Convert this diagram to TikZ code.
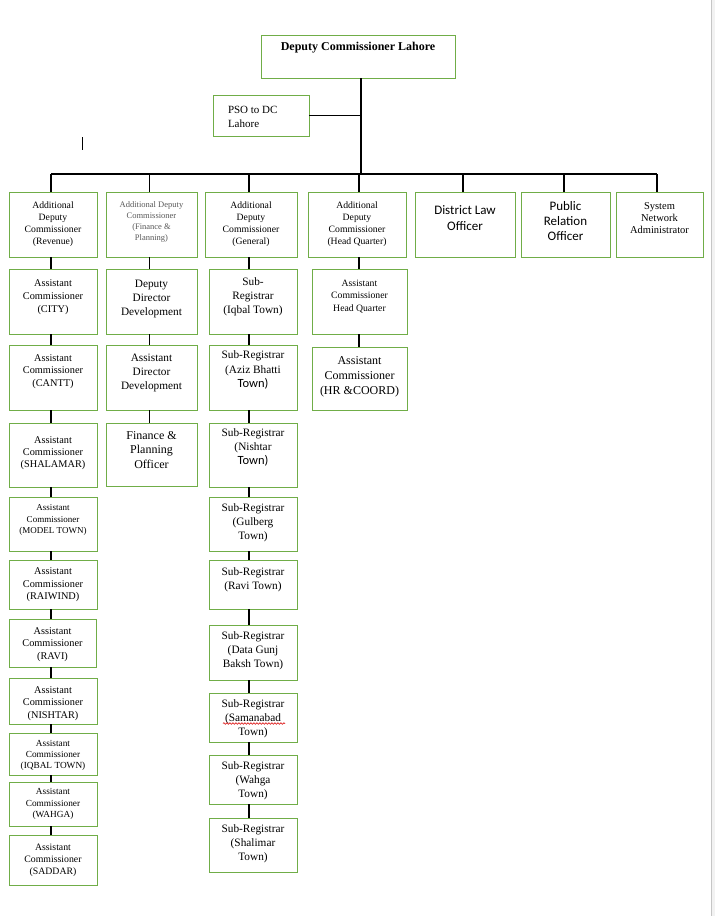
\documentclass[tikz,border=0pt]{standalone}
\usepackage{fontspec}
\setmainfont{Liberation Serif}
\newfontfamily\calib{Carlito}
\usetikzlibrary{calc,decorations.pathmorphing}
\definecolor{boxgreen}{RGB}{112,173,71}
\newcommand\cellt[2][0pt]{\raisebox{#1}[\height][\depth]{\begin{tabular}{@{}c@{}}#2\end{tabular}}}
\newcommand\fsz[2]{\fontsize{#1}{#2}\selectfont}
\begin{document}
\begin{tikzpicture}[x=1pt,y=-1pt,
  box/.style={draw=boxgreen,line width=0.9pt,fill=white,inner sep=0pt},
  conn/.style={draw=black,line width=1.2pt},
]
\path[fill=white] (0,0) rectangle (715,916);
\useasboundingbox (0,0) rectangle (715,916);
\fill[gray!10] (711,0) rectangle (715,916);
\draw[gray!45,line width=0.8pt] (711.5,0) -- (711.5,916);

% top
\node[box,minimum width=194,minimum height=43,font=\bfseries\fsz{12}{14}] (dc) at (358,56.5) {\cellt[8.5pt]{Deputy Commissioner Lahore}};
\node[box,minimum width=96,minimum height=41,font=\fsz{11}{14}] (pso) at (261,115.5) {\raisebox{-2pt}[\height][\depth]{\begin{tabular}{@{}p{66pt}@{}}PSO to DC\\Lahore\end{tabular}}};

% row 1
\node[box,minimum width=88,minimum height=65,font=\fsz{9.7}{12}] (rev) at (53,224.5) {\cellt{Additional\\Deputy\\Commissioner\\(Revenue)}};
\node[box,minimum width=91,minimum height=65,font=\fsz{8.5}{11},text=black!65] (fin) at (151.5,224.5) {\cellt[3pt]{Additional Deputy\\Commissioner\\(Finance \&\\Planning)}};
\node[box,minimum width=92,minimum height=65,font=\fsz{9.7}{12}] (gen) at (251,224.5) {\cellt{Additional\\Deputy\\Commissioner\\(General)}};
\node[box,minimum width=98,minimum height=65,font=\fsz{9.7}{12}] (hq) at (357,224.5) {\cellt{Additional\\Deputy\\Commissioner\\(Head Quarter)}};
\node[box,minimum width=100,minimum height=65,font=\calib\fsz{13}{16}] (dlo) at (465,224.5) {\cellt[5.5pt]{District Law\\Officer}};
\node[box,minimum width=89,minimum height=65,font=\calib\fsz{13}{15}] (pro) at (565.5,224.5) {\cellt[2.5pt]{Public\\Relation\\Officer}};
\node[box,minimum width=87,minimum height=65,font=\fsz{10.5}{12}] (sna) at (659.5,224.5) {\cellt[5.5pt]{System\\Network\\Administrator}};

% column 1
\node[box,minimum width=88,minimum height=65,font=\fsz{10.3}{13}] (city) at (53,301.5) {\cellt[4.5pt]{Assistant\\Commissioner\\(CITY)}};
\node[box,minimum width=88,minimum height=65,font=\fsz{10.3}{12.5}] (cantt) at (53,377.5) {\cellt[6.5pt]{Assistant\\Commissioner\\(CANTT)}};
\node[box,minimum width=88,minimum height=64,font=\fsz{10.3}{12}] (shal) at (53,455) {\cellt[2pt]{Assistant\\Commissioner\\(SHALAMAR)}};
\node[box,minimum width=88,minimum height=54,font=\fsz{9}{11.5}] (model) at (53,524) {\cellt[4pt]{Assistant\\Commissioner\\(MODEL TOWN)}};
\node[box,minimum width=88,minimum height=49,font=\fsz{10.3}{12.5}] (raiw) at (53,584.5) {\cellt{Assistant\\Commissioner\\(RAIWIND)}};
\node[box,minimum width=87,minimum height=48,font=\fsz{10.3}{12.5}] (ravi) at (52.5,643) {\cellt[-1pt]{Assistant\\Commissioner\\(RAVI)}};
\node[box,minimum width=88,minimum height=46,font=\fsz{10.3}{12.5}] (nish) at (53,701) {\cellt[-2pt]{Assistant\\Commissioner\\(NISHTAR)}};
\node[box,minimum width=88,minimum height=42,font=\fsz{9.3}{11}] (iqb) at (53,754) {\cellt[-1pt]{Assistant\\Commissioner\\(IQBAL TOWN)}};
\node[box,minimum width=88,minimum height=44,font=\fsz{9.3}{11.5}] (wah) at (53,804) {\cellt{Assistant\\Commissioner\\(WAHGA)}};
\node[box,minimum width=88,minimum height=50,font=\fsz{9.8}{12}] (sad) at (53,860) {\cellt{Assistant\\Commissioner\\(SADDAR)}};

% column 2
\node[box,minimum width=91,minimum height=65,font=\fsz{11.3}{14}] (ddd) at (151.5,301.5) {\cellt[2.5pt]{Deputy\\Director\\Development}};
\node[box,minimum width=91,minimum height=65,font=\fsz{11.3}{14}] (add) at (151.5,377.5) {\cellt[4.5pt]{Assistant\\Director\\Development}};
\node[box,minimum width=91,minimum height=63,font=\fsz{12}{14.5}] (fpo) at (151.5,454.5) {\cellt[3.5pt]{Finance \&\\Planning\\Officer}};

% column 3
\node[box,minimum width=88,minimum height=65,font=\fsz{11.3}{14}] (s1) at (253,301.5) {\cellt[4.5pt]{Sub-\\Registrar\\(Iqbal Town)}};
\node[box,minimum width=88,minimum height=65,font=\fsz{11.3}{14.5}] (s2) at (253,377.5) {\cellt[7pt]{Sub-Registrar\\(Aziz Bhatti\\{\calib\fsz{12.5}{14.5}Town)}}};
\node[box,minimum width=88,minimum height=64,font=\fsz{11.3}{14}] (s3) at (253,455) {\cellt[7pt]{Sub-Registrar\\(Nishtar\\{\calib\fsz{12.5}{14}Town)}}};
\node[box,minimum width=88,minimum height=54,font=\fsz{11.3}{14}] (s4) at (253,524) {\cellt[1pt]{Sub-Registrar\\(Gulberg\\Town)}};
\node[box,minimum width=88,minimum height=49,font=\fsz{11.3}{14}] (s5) at (253,584.5) {\cellt[4.5pt]{Sub-Registrar\\(Ravi Town)}};
\node[box,minimum width=88,minimum height=55,font=\fsz{11.3}{14}] (s6) at (253,652.5) {\cellt[1.5pt]{Sub-Registrar\\(Data Gunj\\Baksh Town)}};
\node[box,minimum width=88,minimum height=49,font=\fsz{11.3}{14}] (s7) at (253,717.5) {\cellt[-1.5pt]{Sub-Registrar\\(Samanabad\\Town)}};
\node[box,minimum width=88,minimum height=49,font=\fsz{11.3}{14}] (s8) at (253,779.5) {\cellt[-1.5pt]{Sub-Registrar\\(Wahga\\Town)}};
\node[box,minimum width=88,minimum height=54,font=\fsz{11.3}{14}] (s9) at (253,845) {\cellt[1pt]{Sub-Registrar\\(Shalimar\\Town)}};

% column 4
\node[box,minimum width=95,minimum height=65,font=\fsz{9.7}{12.5}] (ach) at (359.5,301.5) {\cellt[5.5pt]{Assistant\\Commissioner\\Head Quarter}};
\node[box,minimum width=95,minimum height=63,font=\fsz{12}{15}] (hr) at (359.5,378.5) {\cellt[2.5pt]{Assistant\\Commissioner\\(HR \&COORD)}};

% coordinates
\coordinate (bus) at (0,174);
\coordinate (trunk) at (361,174);
\coordinate (d1) at (51,0);
\coordinate (d2) at (149.5,0);
\coordinate (d3) at (249,0);
\coordinate (d4) at (359,0);
\coordinate (d5) at (463,0);
\coordinate (d6) at (564,0);
\coordinate (d7) at (657,0);
\coordinate (m1) at (82,137);
\coordinate (m2) at (82,150);

% connectors
\draw[conn] (trunk |- dc.south) -- (trunk);
\draw[conn] (pso.east) -- (pso.east -| trunk);
\draw[conn] (d1 |- bus) -- (d7 |- bus);
\draw[conn] (d1 |- bus) -- (d1 |- rev.north);
\draw[conn] (d2 |- bus) -- (d2 |- fin.north);
\draw[conn] (d3 |- bus) -- (d3 |- gen.north);
\draw[conn] (d4 |- bus) -- (d4 |- hq.north);
\draw[conn] (d5 |- bus) -- (d5 |- dlo.north);
\draw[conn] (d6 |- bus) -- (d6 |- pro.north);
\draw[conn] (d7 |- bus) -- (d7 |- sna.north);
\foreach \a/\b in {rev/city,city/cantt,cantt/shal,shal/model,model/raiw,raiw/ravi,ravi/nish,nish/iqb,iqb/wah,wah/sad}
  \draw[conn] (d1 |- \a.south) -- (d1 |- \b.north);
\foreach \a/\b in {fin/ddd,ddd/add,add/fpo}
  \draw[conn] (d2 |- \a.south) -- (d2 |- \b.north);
\foreach \a/\b in {gen/s1,s1/s2,s2/s3,s3/s4,s4/s5,s5/s6,s6/s7,s7/s8,s8/s9}
  \draw[conn] (d3 |- \a.south) -- (d3 |- \b.north);
\foreach \a/\b in {hq/ach,ach/hr}
  \draw[conn] (d4 |- \a.south) -- (d4 |- \b.north);

% stray mark and spell-check underline
\draw[line width=0.8pt] (m1) -- (m2);
\draw[red!85!black,line width=0.6pt,decorate,decoration={snake,segment length=3pt,amplitude=0.8pt}] ($(s7.center)+(-30,6)$) -- ($(s7.center)+(32,6)$);
\end{tikzpicture}
\end{document}
